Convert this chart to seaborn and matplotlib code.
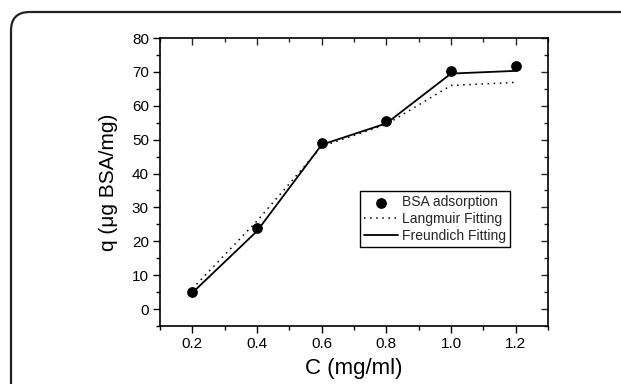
import matplotlib
matplotlib.use("Agg")
import matplotlib.pyplot as plt
import seaborn as sns
import pandas as pd
import numpy as np
from matplotlib.patches import FancyBboxPatch
from matplotlib.ticker import MultipleLocator

conc = [0.2, 0.4, 0.6, 0.8, 1.0, 1.2]
bsa_adsorption = [5.0, 24.0, 49.0, 55.6, 70.3, 71.8]
langmuir_fit = [6.0, 26.0, 48.0, 54.5, 66.0, 66.9]
freundlich_fit = [4.8, 23.0, 48.5, 54.8, 69.5, 70.3]
x_ticks = [0.2, 0.4, 0.6, 0.8, 1.0, 1.2]
x_tick_labels = ["0.2", "0.4", "0.6", "0.8", "1.0", "1.2"]
y_ticks = [0, 10, 20, 30, 40, 50, 60, 70, 80]

sns.set_theme(style="white")
plt.rcParams['font.family'] = ['Liberation Sans', 'DejaVu Sans']

fig = plt.figure(figsize=(6.21, 3.84), dpi=100)
W, H = 621, 384
ax = fig.add_axes([160 / W, 1 - 326 / H, (548 - 160) / W, (326 - 38) / H])

df = pd.DataFrame({"C": conc, "BSA": bsa_adsorption,
                   "Lang": langmuir_fit, "Freu": freundlich_fit})

sns.lineplot(data=df, x="C", y="Freu", ax=ax, color="black",
             lw=1.3, label="Freundich Fitting", zorder=2)
sns.lineplot(data=df, x="C", y="Lang", ax=ax, color="black", lw=1.1,
             linestyle=(0, (1, 3)), label="Langmuir Fitting", zorder=2)
sns.scatterplot(data=df, x="C", y="BSA", ax=ax, color="black", s=60,
                edgecolor="black", linewidth=0, label="BSA adsorption", zorder=3)

ax.set_xlim(0.1, 1.3)
ax.set_ylim(-5, 80)
ax.set_xticks(x_ticks)
ax.set_xticklabels(x_tick_labels)
ax.set_yticks(y_ticks)
ax.xaxis.set_minor_locator(MultipleLocator(0.1))
ax.yaxis.set_minor_locator(MultipleLocator(5))

for s in ax.spines.values():
    s.set_color("black")
    s.set_linewidth(1.2)
    s.set_visible(True)

ax.tick_params(axis="both", which="major", direction="out", length=5, width=1,
               color="black", labelsize=11, labelcolor="black",
               bottom=True, left=True, top=False, right=False, pad=3)
ax.tick_params(axis="both", which="minor", direction="out", length=3, width=1,
               color="black", bottom=True, left=True, top=False, right=False)

# inward ticks on top/right
secx = ax.secondary_xaxis("top")
secx.set_xticks(x_ticks)
secx.xaxis.set_minor_locator(MultipleLocator(0.1))
secx.tick_params(which="major", direction="in", length=5, width=1, labeltop=False)
secx.tick_params(which="minor", direction="in", length=3, width=1)
secx.spines["top"].set_visible(False)
secy = ax.secondary_yaxis("right")
secy.set_yticks(y_ticks)
secy.yaxis.set_minor_locator(MultipleLocator(5))
secy.tick_params(which="major", direction="in", length=5, width=1, labelright=False)
secy.tick_params(which="minor", direction="in", length=3, width=1)
secy.spines["right"].set_visible(False)

ax.set_xlabel("C (mg/ml)", fontsize=16, color="black", labelpad=5)
ax.set_ylabel("q (μg BSA/mg)", fontsize=15, color="black", labelpad=10)

handles, labels = ax.get_legend_handles_labels()
order = [labels.index("BSA adsorption"), labels.index("Langmuir Fitting"),
         labels.index("Freundich Fitting")]
leg = ax.legend([handles[i] for i in order], [labels[i] for i in order],
                loc="upper left", bbox_to_anchor=((360 - 160) / 388, 1 - (191 - 38) / 288),
                fontsize=10, frameon=True, fancybox=False, framealpha=1,
                edgecolor="black", borderpad=0.3, labelspacing=0.2,
                handlelength=2.4, handletextpad=0.3, borderaxespad=0)
leg.get_frame().set_linewidth(1.0)

# rounded outer frame
frame = FancyBboxPatch((11 / W, -0.2), 1.2, 1 - 12 / H + 0.2,
                       boxstyle="round,pad=0,rounding_size=0.03",
                       transform=fig.transFigure, fill=False,
                       edgecolor="#222222", linewidth=1.6, clip_on=False,
                       mutation_aspect=W / H)
fig.patches.append(frame)

fig.savefig("out.png", dpi=100)
